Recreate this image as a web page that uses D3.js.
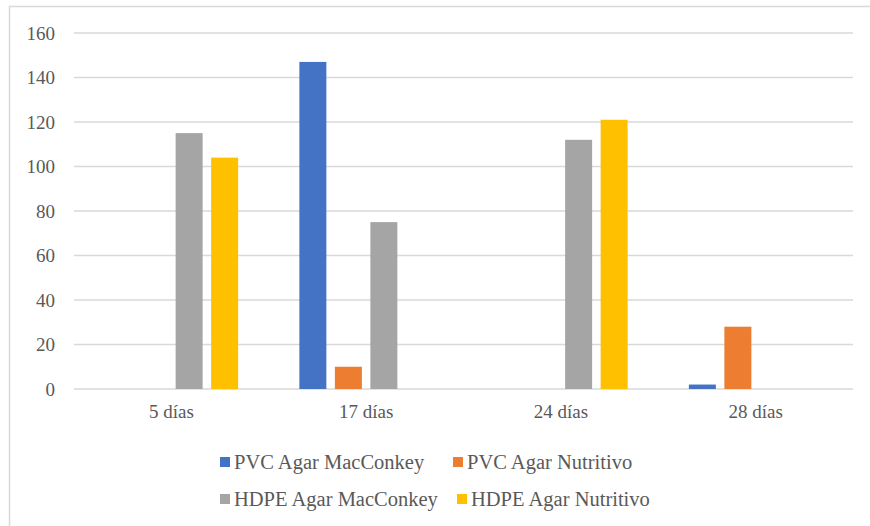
<!DOCTYPE html>
<html>
<head>
<meta charset="utf-8">
<script src="https://cdn.jsdelivr.net/npm/d3@7"></script>
<style>
  html, body { margin: 0; padding: 0; background: #fff; }
  svg { display: block; }
  svg text { font-family: "Liberation Serif", "DejaVu Serif", serif; }
</style>
</head>
<body>
<svg id="chart" width="870" height="526"></svg>
<script>
const categories = ["5 días", "17 días", "24 días", "28 días"];
const seriesNames = ["PVC Agar MacConkey", "PVC Agar Nutritivo", "HDPE Agar MacConkey", "HDPE Agar Nutritivo"];
const pvcMac = [0, 147, 0, 2];
const pvcNut = [0, 10, 0, 28];
const hdpeMac = [115, 75, 112, 0];
const hdpeNut = [104, 0, 121, 0];
const yTicks = [0, 20, 40, 60, 80, 100, 120, 140, 160];
const colors = ["#4472C4", "#ED7D31", "#A5A5A5", "#FFC000"];

const series = [pvcMac, pvcNut, hdpeMac, hdpeNut];
const textColor = "#595959";

const svg = d3.select("#chart");

// chart frame
svg.append("line").attr("x1", 9).attr("x2", 870).attr("y1", 6.5).attr("y2", 6.5)
  .attr("stroke", "#d9d9d9").attr("stroke-width", 1.5);
svg.append("line").attr("x1", 9.5).attr("x2", 9.5).attr("y1", 6).attr("y2", 526)
  .attr("stroke", "#d9d9d9").attr("stroke-width", 1.5);

const plot = { left: 74, right: 853, top: 33, bottom: 389 };

const x = d3.scaleBand().domain(categories).range([plot.left, plot.right]).paddingInner(0).paddingOuter(0);
const groupW = 133.5;
const x1 = d3.scaleBand().domain(d3.range(series.length)).range([0, groupW]).paddingInner(0.24).paddingOuter(0);
const y = d3.scaleLinear().domain([0, 160]).range([plot.bottom, plot.top]);

// gridlines
svg.append("g").selectAll("line").data(yTicks).join("line")
  .attr("x1", plot.left).attr("x2", plot.right)
  .attr("y1", d => y(d)).attr("y2", d => y(d))
  .attr("stroke", "#d9d9d9").attr("stroke-width", 1.3);

// y axis labels
const yAxis = d3.axisLeft(y).tickValues(yTicks).tickSize(0).tickPadding(0);
const gy = svg.append("g").attr("transform", `translate(${plot.left - 19},0)`).call(yAxis);
gy.attr("font-family", null).attr("font-size", null);
gy.select(".domain").remove();
gy.selectAll("text").style("font-size", "19px").attr("fill", textColor);

// x axis labels
const xAxis = d3.axisBottom(x).tickSize(0).tickPadding(0);
const gx = svg.append("g").attr("transform", `translate(0,${plot.bottom + 15})`).call(xAxis);
gx.attr("font-family", null).attr("font-size", null);
gx.select(".domain").remove();
gx.selectAll("text").style("font-size", "19px").attr("fill", textColor).attr("dy", "0.75em");

// bars
const groups = svg.append("g").selectAll("g").data(categories).join("g")
  .attr("transform", c => `translate(${x(c) + x.bandwidth() / 2 - groupW / 2},0)`);
groups.selectAll("rect").data((c, ci) => series.map((s, si) => ({ si, v: s[ci] })))
  .join("rect")
  .attr("x", d => x1(d.si))
  .attr("width", x1.bandwidth())
  .attr("y", d => y(d.v))
  .attr("height", d => y(0) - y(d.v))
  .attr("fill", d => colors[d.si]);

// legend
const legendPos = [[220, 462], [453, 462], [220, 499], [457, 499]];
const lg = svg.append("g").selectAll("g").data(seriesNames).join("g")
  .attr("transform", (d, i) => `translate(${legendPos[i][0]},${legendPos[i][1]})`);
lg.append("rect").attr("x", 0).attr("y", -5).attr("width", 10).attr("height", 10)
  .attr("fill", (d, i) => colors[i]);
lg.append("text").attr("x", 14).attr("y", 0).attr("dy", "0.35em")
  .style("font-size", "20.5px").attr("fill", textColor)
  .text(d => d);
</script>
</body>
</html>
